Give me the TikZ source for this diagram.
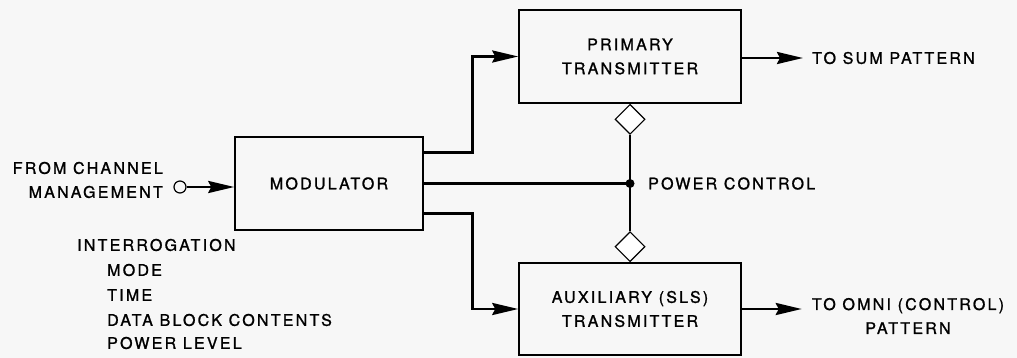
\documentclass[tikz,border=0pt]{standalone}
\usepackage{fontspec}
\setmainfont{TeX Gyre Heros}[LetterSpace=14, FakeBold=1.2]
\usetikzlibrary{shapes.geometric, arrows.meta}
\tikzstyle{block} = [rectangle, draw=black, line width=1.5pt, minimum width=222pt, minimum height=93pt, text centered, align=center]
\tikzstyle{label} = [inner sep=0pt, align=left]
\tikzstyle{port} = [diamond, draw=black, fill=white, line width=1.2pt, aspect=1, minimum width=30pt, minimum height=30pt, inner sep=0pt]
\tikzstyle{wire} = [line width=2.8pt]
\tikzstyle{arrow} = [wire,-{Stealth[length=26pt,width=12pt,inset=3pt]}]

\begin{document}
\begin{tikzpicture}[x=1pt, y=-1pt, font=\fontsize{16}{24}\selectfont]
    \useasboundingbox [fill=black!3] (0,0) rectangle (1017,358);

    % Nodes
    \node (mod) [block, minimum width=188pt] at (329,183.5) {MODULATOR};
    \node (pt) [block] at (630,56.5) {PRIMARY\\TRANSMITTER};
    \node (aux) [block, minimum height=92pt] at (630,309) {AUXILIARY (SLS)\\TRANSMITTER};

    \node (pd) [port, anchor=north] at (pt.south) {};
    \node (ad) [port, anchor=south] at (aux.north) {};
    \node (pc) [circle, fill=black, inner sep=0pt, minimum size=9pt] at (630,183.5) {};
    \node (pclbl) [label, anchor=west] at (648,183.5) {POWER CONTROL};

    \node (inp) [circle, draw=black, line width=1.2pt, inner sep=0pt, minimum size=12pt] at (180,187) {};
    \node (src) [label, anchor=east, align=right] at (163,180) {FROM CHANNEL\\MANAGEMENT};

    \node (intg) [label, anchor=west] at (77,245) {INTERROGATION};
    \node (mode) [label, anchor=west] at (107,270) {MODE};
    \node (time) [label, anchor=west] at (107,295) {TIME};
    \node (dbc) [label, anchor=west] at (107,320) {DATA BLOCK CONTENTS};
    \node (plev) [label, anchor=west] at (107,343) {POWER LEVEL};

    \node (sum) [label, anchor=west] at (812,58) {TO SUM PATTERN};
    \node (omni) [label, align=center] at (908,316) {TO OMNI (CONTROL)\\PATTERN};

    % Connections
    \draw [arrow] (inp) -- (inp -| mod.west);
    \draw [arrow] ([yshift=31pt]mod.east) -- ++(49,0) |- (pt.west);
    \draw [arrow] ([yshift=-30pt]mod.east) -- ++(49,0) |- (aux.west);
    \draw [wire] (mod.east) -- (pc.center);
    \draw [wire] (pd.south) -- (ad.north);
    \draw [arrow, shorten >=9pt] (pt.east |- sum) -- (sum.west);
    \draw [arrow, shorten >=10pt] (aux.east) -- (aux.east -| omni.west);

\end{tikzpicture}
\end{document}
